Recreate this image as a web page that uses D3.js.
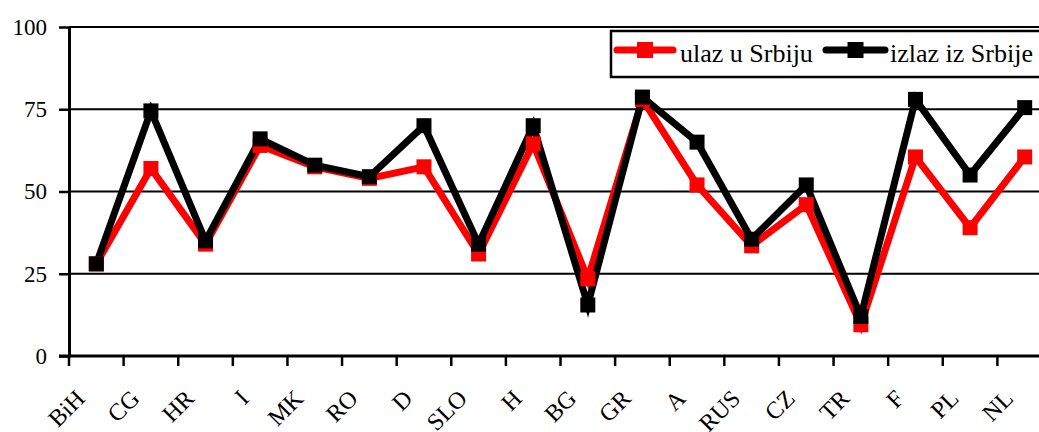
<!DOCTYPE html>
<html>
<head>
<meta charset="utf-8">
<script src="https://cdn.jsdelivr.net/npm/d3@7"></script>
</head>
<body style="margin:0">
<svg id="chart" width="1039" height="432"></svg>
<script>
// Countries along the x axis
const categories = ["BiH", "CG", "HR", "I", "MK", "RO", "D", "SLO", "H", "BG", "GR", "A", "RUS", "CZ", "TR", "F", "PL", "NL"];
// Entry into Serbia
const ulaz = [28, 57, 34, 64, 57.5, 54, 57.5, 31, 64.5, 23.5, 78, 52, 33.5, 46, 9.5, 60.5, 39, 60.5];
// Exit from Serbia
const izlaz = [28, 74.5, 35, 66, 58, 54.5, 70, 34, 70, 15.5, 78.7, 65, 35.5, 52, 12, 78, 55, 75.5];
const yTicks = [0, 25, 50, 75, 100];

const seriesList = [
  { name: "ulaz u Srbiju", values: ulaz, color: "#ff0000" },
  { name: "izlaz iz Srbije", values: izlaz, color: "#000000" }
];

const FONT = "Liberation Serif";

const svg = d3.select("#chart");
const plot = { left: 69, right: 1052, top: 27, bottom: 356 };

const x = d3.scaleBand().domain(categories).range([plot.left, plot.right]).padding(0);
const y = d3.scaleLinear().domain([0, 100]).range([plot.bottom, plot.top]);
const cx = c => x(c) + x.bandwidth() / 2;

// Horizontal gridlines
svg.append("g").selectAll("line").data(yTicks.filter(d => d > 0)).join("line")
  .attr("x1", plot.left).attr("x2", 1039)
  .attr("y1", d => y(d)).attr("y2", d => y(d))
  .attr("stroke", "#000").attr("stroke-width", 2.2);

// Y axis
const yAxis = d3.axisLeft(y).tickValues(yTicks).tickSize(10).tickPadding(12).tickSizeOuter(0);
const gy = svg.append("g").attr("transform", `translate(${plot.left},0)`).call(yAxis);
gy.attr("font-family", FONT).attr("font-size", 23);
gy.select(".domain").attr("stroke-width", 3);
gy.selectAll(".tick line").attr("stroke-width", 2.5);
gy.selectAll(".tick text").attr("fill", "#000");

// X axis: ticks at the category boundaries
const gx = svg.append("g").attr("font-family", FONT).attr("font-size", 24);
gx.append("line")
  .attr("x1", plot.left - 10).attr("x2", 1039)
  .attr("y1", plot.bottom).attr("y2", plot.bottom)
  .attr("stroke", "#000").attr("stroke-width", 3);
gx.selectAll("line.tick").data(categories).join("line")
  .attr("class", "tick")
  .attr("x1", d => x(d)).attr("x2", d => x(d))
  .attr("y1", plot.bottom).attr("y2", plot.bottom + 10)
  .attr("stroke", "#000").attr("stroke-width", 2.5);
gx.selectAll("text").data(categories).join("text")
  .attr("transform", d => `translate(${cx(d) - 10},${plot.bottom + 44}) rotate(-45)`)
  .attr("text-anchor", "end")
  .text(d => d);

// Lines first, markers on top
const line = d3.line().x((d, i) => cx(categories[i])).y(d => y(d));
svg.append("g").selectAll("path").data(seriesList).join("path")
  .attr("d", s => line(s.values))
  .attr("fill", "none")
  .attr("stroke", s => s.color)
  .attr("stroke-width", 7)
  .attr("stroke-linejoin", "miter");

const mk = 15;
seriesList.forEach(s => {
  svg.append("g").selectAll("rect").data(s.values).join("rect")
    .attr("x", (d, i) => cx(categories[i]) - mk / 2)
    .attr("y", d => y(d) - mk / 2)
    .attr("width", mk).attr("height", mk)
    .attr("fill", s.color);
});

// Legend
const lg = svg.append("g").attr("font-family", FONT).attr("font-size", 26);
lg.append("rect")
  .attr("x", 611).attr("y", 31).attr("width", 440).attr("height", 46)
  .attr("fill", "#fff").attr("stroke", "#000").attr("stroke-width", 2.5);
const legendItems = [
  { s: seriesList[0], x0: 617, x1: 673, tx: 680 },
  { s: seriesList[1], x0: 826, x1: 885, tx: 890 }
];
legendItems.forEach(it => {
  lg.append("line")
    .attr("x1", it.x0).attr("x2", it.x1)
    .attr("y1", 50).attr("y2", 50)
    .attr("stroke", it.s.color).attr("stroke-width", 7).attr("stroke-linecap", "round");
  lg.append("rect")
    .attr("x", (it.x0 + it.x1) / 2 - 8).attr("y", 50 - 8).attr("width", 16).attr("height", 16)
    .attr("fill", it.s.color);
  lg.append("text")
    .attr("x", it.tx).attr("y", 62)
    .text(it.s.name);
});
</script>
</body>
</html>
